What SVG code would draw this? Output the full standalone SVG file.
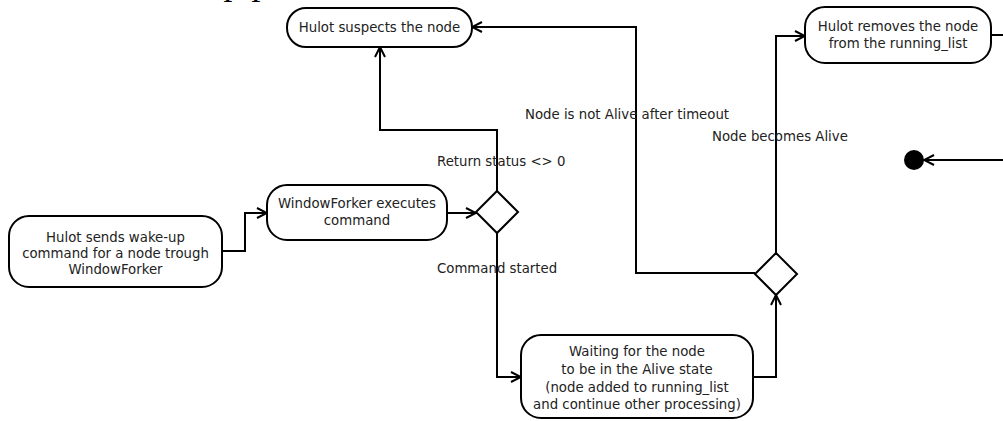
<svg xmlns="http://www.w3.org/2000/svg" width="1003" height="421" viewBox="0 0 1003 421">
<style>
.node rect{fill:#fff;stroke:#000;stroke-width:2}
.node text,.lbl{font-family:"DejaVu Sans",sans-serif;font-size:13.3px;fill:#222}
.node text{text-anchor:middle}
.dia{fill:#fff;stroke:#000;stroke-width:2}
#connectors path{fill:none;stroke:#000;stroke-width:2}
</style>
<defs>
<marker id="arr" viewBox="0 0 12 12" refX="11" refY="6" markerWidth="12" markerHeight="12" markerUnits="userSpaceOnUse" orient="auto">
<path d="M1,1 L11,6 L1,11" fill="none" stroke="#000" stroke-width="2"/>
</marker>
</defs>
<rect width="1003" height="421" fill="#fff"/>
<text x="226" y="-6" font-family="Liberation Serif,serif" font-style="italic" font-size="36" letter-spacing="10" fill="#000">pp</text>
<g id="connectors">
<path d="M222,251 H245 V213 H267" marker-end="url(#arr)"/>
<path d="M447,213 H476" marker-end="url(#arr)"/>
<path d="M497,191 V130 H380 V47" marker-end="url(#arr)"/>
<path d="M497,233 V377 H521" marker-end="url(#arr)"/>
<path d="M753,377 H776 V295" marker-end="url(#arr)"/>
<path d="M755,273 H636 V27 H472" marker-end="url(#arr)"/>
<path d="M776,253 V36 H805" marker-end="url(#arr)"/>
<path d="M991,35 H1003"/>
<path d="M1003,160 H924" marker-end="url(#arr)"/>
</g>
<g id="n_send" class="node">
<rect x="9" y="216" width="213" height="71" rx="20"/>
<text x="115.5" y="242">Hulot sends wake-up</text>
<text x="115.5" y="258">command for a node trough</text>
<text x="115.5" y="274">WindowForker</text>
</g>
<g id="n_exec" class="node">
<rect x="267" y="185" width="180" height="55" rx="20"/>
<text x="357" y="208">WindowForker executes</text>
<text x="357" y="225">command</text>
</g>
<g id="d1"><path class="dia" d="M497,191 L518,212 L497,233 L476,212 Z"/></g>
<g id="n_suspect" class="node">
<rect x="287" y="8" width="185" height="39" rx="19"/>
<text x="379.5" y="32">Hulot suspects the node</text>
</g>
<g id="n_wait" class="node">
<rect x="521" y="335" width="232" height="83" rx="20"/>
<text x="637" y="356">Waiting for the node</text>
<text x="637" y="374">to be in the Alive state</text>
<text x="637" y="392">(node added to running_list</text>
<text x="637" y="409">and continue other processing)</text>
</g>
<g id="d2"><path class="dia" d="M776,253 L797,274 L776,295 L755,274 Z"/></g>
<g id="n_remove" class="node">
<rect x="805" y="7" width="186" height="56" rx="20"/>
<text x="898" y="31">Hulot removes the node</text>
<text x="898" y="48">from the running_list</text>
</g>
<g id="n_final"><circle cx="914" cy="160" r="10" fill="#000"/></g>
<g id="labels">
<text class="lbl" x="437" y="166">Return status &lt;&gt; 0</text>
<text class="lbl" x="437" y="273">Command started</text>
<text class="lbl" x="525" y="119">Node is not Alive after timeout</text>
<text class="lbl" x="712" y="141">Node becomes Alive</text>
</g>
</svg>
